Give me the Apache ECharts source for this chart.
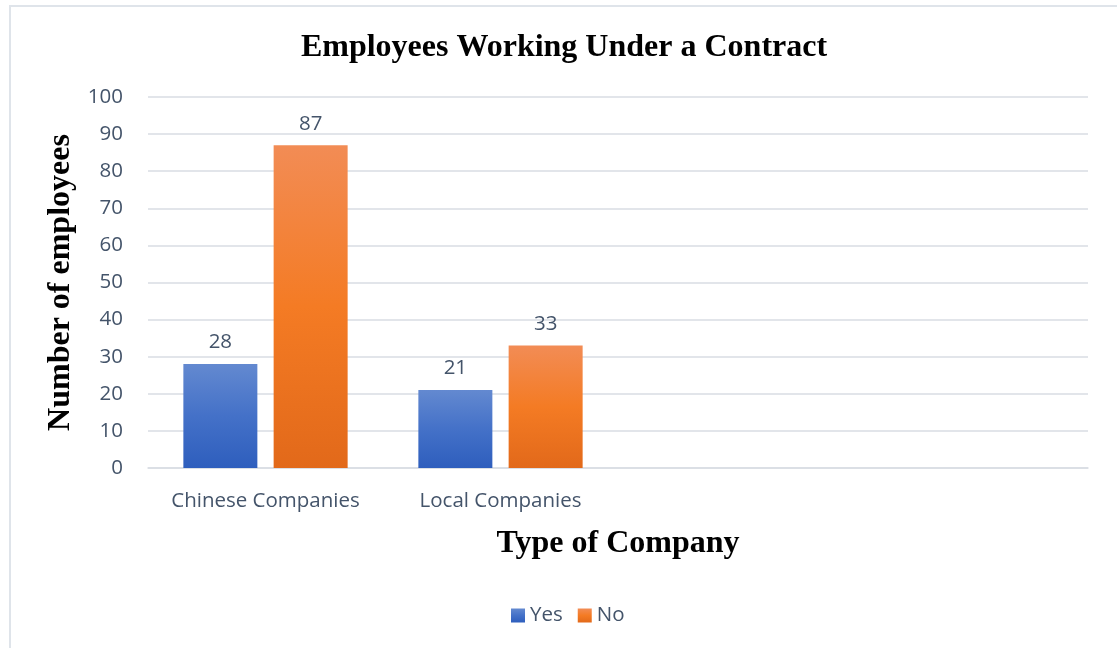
<!DOCTYPE html>
<html>
<head>
<meta charset="utf-8">
<script src="https://cdn.jsdelivr.net/npm/echarts@6/dist/echarts.min.js"></script>
<style>
  html, body { margin: 0; padding: 0; background: #ffffff; }
  #chart { width: 1117px; height: 648px; }
</style>
</head>
<body>
<div id="chart"></div>
<script>
// Company types; the two trailing slots are left empty on the axis
const categories = ['Chinese Companies', 'Local Companies', '', ''];
const seriesNames = ['Yes', 'No'];
const yesValues = [28, 21, null, null];
const noValues = [87, 33, null, null];
const yTicks = { min: 0, max: 100, interval: 10 };

const labelColor = '#44546a';
const serif = '"Liberation Serif", "Times New Roman", serif';
const sans = '"Open Sans", "Noto Sans", sans-serif';
const sansSize = 20.5;

function vGrad(top, mid, bottom) {
  return new echarts.graphic.LinearGradient(0, 0, 0, 1, [
    { offset: 0, color: top },
    { offset: 0.5, color: mid },
    { offset: 1, color: bottom }
  ]);
}
const blueFill = vGrad('#6389d0', '#4471c8', '#2e5ebd');
const orangeFill = vGrad('#f28c55', '#f47b24', '#e2691a');

const chart = echarts.init(document.getElementById('chart'), null, { renderer: 'canvas' });

const barLabel = {
  show: true,
  position: 'top',
  distance: 11,
  color: labelColor,
  fontFamily: sans,
  fontSize: sansSize
};

chart.setOption({
  backgroundColor: '#ffffff',
  animation: false,
  title: {
    text: 'Employees Working Under a Contract',
    left: 564,
    textAlign: 'center',
    top: 32,
    padding: 0,
    textStyle: { fontFamily: serif, fontWeight: 'bold', fontSize: 32, color: '#000000' }
  },
  graphic: [{
    type: 'rect',
    shape: { x: 10, y: 6, width: 1200, height: 700 },
    style: { fill: 'none', stroke: '#dfe4ea', lineWidth: 2 },
    silent: true,
    z: -10
  }],
  legend: {
    data: seriesNames,
    left: 511,
    top: 605,
    padding: 0,
    itemWidth: 14,
    itemHeight: 14,
    itemGap: 15,
    icon: 'rect',
    textStyle: { fontFamily: sans, fontSize: sansSize, color: labelColor }
  },
  grid: { left: 148, right: 29, top: 97, bottom: 180, containLabel: false },
  xAxis: {
    type: 'category',
    data: categories,
    name: 'Type of Company',
    nameLocation: 'middle',
    nameGap: 60,
    nameTextStyle: { fontFamily: serif, fontWeight: 'bold', fontSize: 32, color: '#000000' },
    axisLine: { show: true, lineStyle: { color: '#d9dde3', width: 1.5 } },
    axisTick: { show: false },
    axisLabel: { interval: 0, hideOverlap: false, color: labelColor, fontFamily: sans, fontSize: sansSize, margin: 23 }
  },
  yAxis: {
    type: 'value',
    min: yTicks.min,
    max: yTicks.max,
    interval: yTicks.interval,
    name: 'Number of employees',
    nameLocation: 'middle',
    nameRotate: 90,
    nameGap: 86,
    nameTextStyle: { fontFamily: serif, fontWeight: 'bold', fontSize: 32, color: '#000000', verticalAlign: 'middle' },
    axisLine: { show: false },
    axisTick: { show: false },
    splitLine: { lineStyle: { color: '#d9dde3', width: 1.5 } },
    axisLabel: { color: labelColor, fontFamily: sans, fontSize: sansSize, margin: 25 }
  },
  series: [
    {
      name: seriesNames[0],
      type: 'bar',
      data: yesValues,
      barWidth: 74,
      barGap: '22%',
      itemStyle: { color: blueFill },
      label: barLabel
    },
    {
      name: seriesNames[1],
      type: 'bar',
      data: noValues,
      barWidth: 74,
      barGap: '22%',
      itemStyle: { color: orangeFill },
      label: barLabel
    }
  ]
});
</script>
</body>
</html>
